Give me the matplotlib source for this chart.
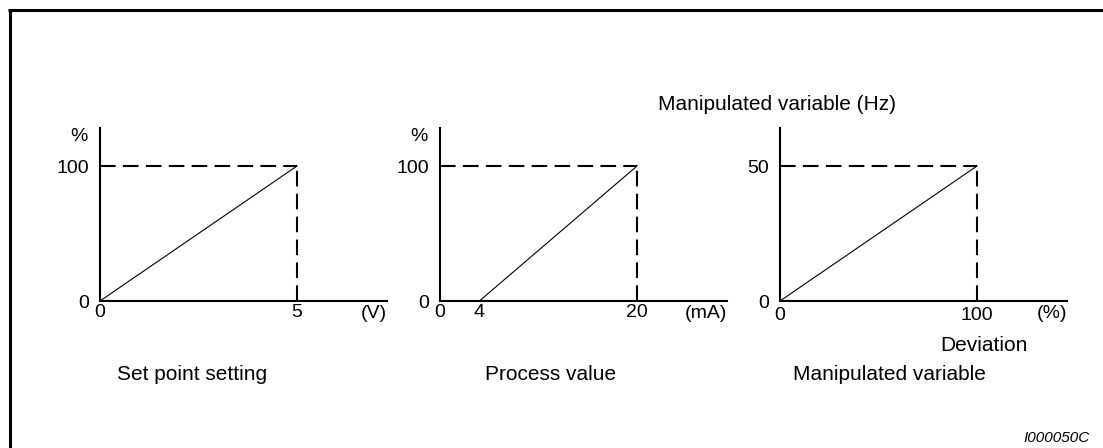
import matplotlib
matplotlib.use('Agg')
import matplotlib.pyplot as plt
from matplotlib.lines import Line2D

plt.rcParams['font.family'] = ['Liberation Sans', 'DejaVu Sans']

# ---- data ----
titles = ["Set point setting", "Process value", "Manipulated variable"]
x_start = [0, 4, 0]          # where the characteristic line starts (y = 0)
x_end = [5, 20, 100]         # where it reaches full scale
y_full = [100, 100, 50]      # full-scale output
x_ticks = [[0, 5], [0, 4, 20], [0, 100]]
y_ticks = [[0, 100], [0, 100], [0, 50]]
x_units = ["(V)", "(mA)", "(%)"]
y_units = ["%", "%", ""]
top_label = "Manipulated variable (Hz)"
x_caption = "Deviation"
figure_id = "I000050C"

# ---- layout (pixels) ----
W, H = 1103, 448
fig = plt.figure(figsize=(W / 100, H / 100), dpi=100)

def fx(px):
    return px / W

def fy(py):
    return 1 - py / H

axis_left = [100, 440, 780]
axis_bottom, axis_top, axis_w = 301, 128, 287
full_x_px, full_y_px = 197, 135
title_left = [117, 485, 793]
xlabel_pad = [2, 2, 4]

dash = (0, (7.5, 3.5))
for i in range(3):
    l = axis_left[i]
    ax = fig.add_axes([fx(l), fy(axis_bottom), axis_w / W, (axis_bottom - axis_top) / H])
    ax.set_xlim(0, x_end[i] * axis_w / full_x_px)
    ax.set_ylim(0, y_full[i] * (axis_bottom - axis_top) / full_y_px)
    for s in ['top', 'right']:
        ax.spines[s].set_visible(False)
    for s in ['left', 'bottom']:
        ax.spines[s].set_linewidth(1.5)
        ax.spines[s].set_color('black')
    ax.plot([x_start[i], x_end[i]], [0, y_full[i]], color='black', lw=0.8, clip_on=False)
    ax.plot([0, x_end[i]], [y_full[i], y_full[i]], color='black', lw=1.5, ls=dash, clip_on=False)
    ax.plot([x_end[i], x_end[i]], [0, y_full[i]], color='black', lw=1.5, ls=dash, clip_on=False)
    ax.set_xticks(x_ticks[i])
    ax.set_yticks(y_ticks[i])
    ax.tick_params(axis='both', length=0, labelsize=14, colors='black')
    ax.tick_params(axis='x', pad=xlabel_pad[i])
    ax.tick_params(axis='y', pad=8)
    ax.text(1.0, -0.07, x_units[i], transform=ax.transAxes, ha='right', va='center', fontsize=14)
    if y_units[i]:
        fig.text(fx(l - 21), fy(136), y_units[i], ha='center', va='center', fontsize=14)
    fig.text(fx(title_left[i]), fy(375), titles[i], ha='left', va='center', fontsize=15)

fig.text(fx(777), fy(105), top_label, ha='center', va='center', fontsize=15)
fig.text(fx(940), fy(345), x_caption, ha='left', va='center', fontsize=15)
fig.text(fx(1090), fy(438), figure_id, ha='right', va='center', fontsize=11, style='italic')

# frame (top and left edges)
fig.add_artist(Line2D([fx(8), fx(1103)], [fy(10.5), fy(10.5)], color='black', lw=2.2,
                      solid_capstyle='butt'))
fig.add_artist(Line2D([fx(9.5), fx(9.5)], [fy(9), fy(448)], color='black', lw=2.2,
                      solid_capstyle='butt'))

fig.savefig('out.png', dpi=100)
